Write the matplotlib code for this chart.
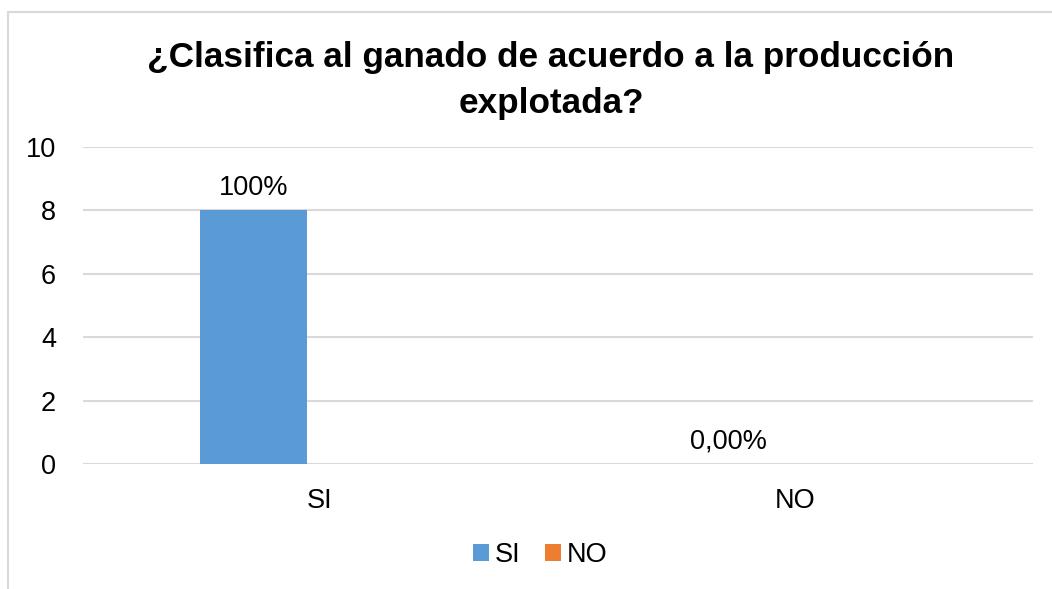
import matplotlib
matplotlib.use("Agg")
import matplotlib.pyplot as plt
from matplotlib.patches import Rectangle
import numpy as np

categories = ["SI", "NO"]
series_names = ["SI", "NO"]
si_values = [8, 0]
no_values = [0, 0]
si_labels = ["100%", "0,00%"]
title = "¿Clasifica al ganado de acuerdo a la producción\nexplotada?"
yticks = [0, 2, 4, 6, 8, 10]

W, H = 1052, 589
fig = plt.figure(figsize=(W / 100, H / 100), dpi=100)
plt.rcParams['font.family'] = ['Liberation Sans', 'DejaVu Sans']

# chart border (left and top visible)
fig.patches.append(Rectangle((8 / W, -0.1), 2, (H - 12) / H + 0.1,
                             transform=fig.transFigure, fill=False,
                             edgecolor='#d9d9d9', linewidth=1.5))

x0, x1 = 82.5, 1032.5
y_top, y_bot = 147, 464
ax = fig.add_axes([x0 / W, 1 - y_bot / H, (x1 - x0) / W, (y_bot - y_top) / H])

x = np.arange(len(categories))
bw = 0.225
off = 0.14
b1 = ax.bar(x - off, si_values, bw, color='#5B9BD5', label=series_names[0])
b2 = ax.bar(x + off, no_values, bw, color='#ED7D31', label=series_names[1])
for rect, lab in zip(b1, si_labels):
    ax.annotate(lab, (rect.get_x() + rect.get_width() / 2, rect.get_height()),
                xytext=(0, 7), textcoords='offset points', ha='center', va='bottom',
                fontsize=19.5, color='#000000')

ax.set_xlim(-0.5, 1.5)
ax.set_ylim(0, 10)
ax.set_yticks(yticks)
ax.set_xticks(x)
ax.set_xticklabels(categories)
ax.tick_params(axis='both', length=0, labelsize=19.5, colors='#000000')
ax.tick_params(axis='x', pad=17)
ax.tick_params(axis='y', pad=19)
ax.grid(axis='y', color='#d9d9d9', linewidth=1.5)
ax.set_axisbelow(True)
for s in ax.spines.values():
    s.set_visible(False)

fig.text(551 / W, 1 - 81 / H, title, ha='center', va='center',
         fontsize=25.3, fontweight='bold', linespacing=1.5)

leg = fig.legend(loc='center', bbox_to_anchor=(540 / W, 1 - 555 / H), ncol=2,
                 frameon=False, fontsize=19.5, handlelength=0.6, handleheight=0.6,
                 handletextpad=0.2, columnspacing=0.9)

fig.savefig("out.png", dpi=100)
